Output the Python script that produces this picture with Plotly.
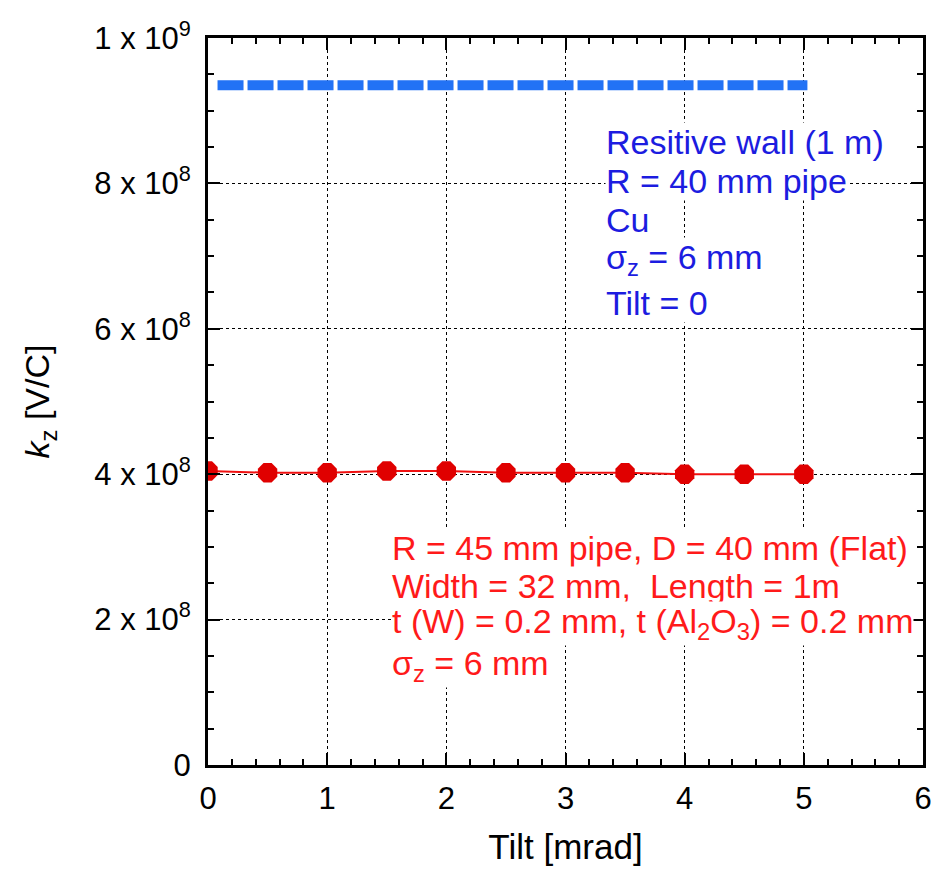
import plotly.graph_objects as go

# ---- data ----
tilt_red = [0, 0.5, 1, 1.5, 2, 2.5, 3, 3.5, 4, 4.5, 5]
kz_red = [4.045e8, 4.02e8, 4.02e8, 4.045e8, 4.045e8, 4.02e8, 4.02e8, 4.02e8, 4.00e8, 4.00e8, 4.00e8]

tilt_blue = [0.08, 5.03]
kz_blue = [9.35e8, 9.35e8]

x_ticks = [0, 1, 2, 3, 4, 5, 6]
y_ticks = [0, 2e8, 4e8, 6e8, 8e8, 1e9]
y_ticktext = ["0", "2 x 10<sup>8</sup>", "4 x 10<sup>8</sup>", "6 x 10<sup>8</sup>",
              "8 x 10<sup>8</sup>", "1 x 10<sup>9</sup>"]

blue_lines = ["Resitive wall (1 m)", "R = 40 mm pipe", "Cu",
              "σ<sub>z</sub> = 6 mm", "Tilt = 0"]
red_lines = ["R = 45 mm pipe, D = 40 mm (Flat)", "Width = 32 mm,  Length = 1m",
             "t (W) = 0.2 mm, t (Al<sub>2</sub>O<sub>3</sub>) = 0.2 mm",
             "σ<sub>z</sub> = 6 mm"]

FONT = "Liberation Sans, Arial, sans-serif"
BLUE_TXT = "#1c1ce0"
RED_TXT = "#ff1a1a"

fig = go.Figure()
fig.add_trace(go.Scatter(
    x=tilt_blue, y=kz_blue, mode="lines",
    line=dict(color="#2272f5", width=10, dash="26px,4px"),
    showlegend=False))
fig.add_trace(go.Scatter(
    x=tilt_red, y=kz_red, mode="lines+markers",
    line=dict(color="#f01010", width=2),
    marker=dict(symbol="octagon", size=21, color="#e00000"),
    showlegend=False))

axis_common = dict(
    showline=True, linecolor="black", linewidth=3, mirror="allticks",
    ticks="inside", ticklen=12, tickwidth=1.5, tickcolor="black",
    showgrid=True, gridcolor="black", gridwidth=1, griddash="dot",
    zeroline=False,
    tickfont=dict(family=FONT, size=31, color="black"),
)

fig.update_xaxes(
    range=[0, 6], tickvals=x_ticks, ticktext=[str(v) for v in x_ticks],
    minor=dict(dtick=0.2, ticks="inside", ticklen=6, tickcolor="black", showgrid=False),
    ticklabelstandoff=4,
    title=dict(text="Tilt [mrad]", font=dict(family=FONT, size=35, color="black"), standoff=20),
    **axis_common)
fig.update_yaxes(
    range=[0, 1e9], tickvals=y_ticks, ticktext=y_ticktext,
    minor=dict(dtick=5e7, ticks="inside", ticklen=6, tickcolor="black", showgrid=False),
    ticklabelstandoff=8,
    **axis_common)

ann = []
by = [8.57e8, 8.03e8, 7.50e8, 6.96e8, 6.35e8]
for t, yv in zip(blue_lines, by):
    ann.append(dict(x=3.33, y=yv, xref="x", yref="y", text=t, showarrow=False,
                    xanchor="left", yanchor="middle", bgcolor="white", borderpad=0,
                    font=dict(family=FONT, size=34, color=BLUE_TXT)))
ry = [2.985e8, 2.46e8, 1.94e8, 1.37e8]
for t, yv in zip(red_lines, ry):
    ann.append(dict(x=1.533, y=yv, xref="x", yref="y", text=t, showarrow=False,
                    xanchor="left", yanchor="middle", bgcolor="white", borderpad=0,
                    font=dict(family=FONT, size=34, color=RED_TXT)))
ann.append(dict(x=-0.235, y=0.5, xref="paper", yref="paper",
                text="<i>k</i><sub>z</sub> [V/C]", showarrow=False, textangle=-90,
                xanchor="center", yanchor="middle",
                font=dict(family=FONT, size=34, color="black")))

fig.update_layout(
    width=938, height=872,
    margin=dict(l=208, r=6, t=38, b=107),
    paper_bgcolor="white", plot_bgcolor="white",
    annotations=ann,
)

fig.write_html("out.html")
